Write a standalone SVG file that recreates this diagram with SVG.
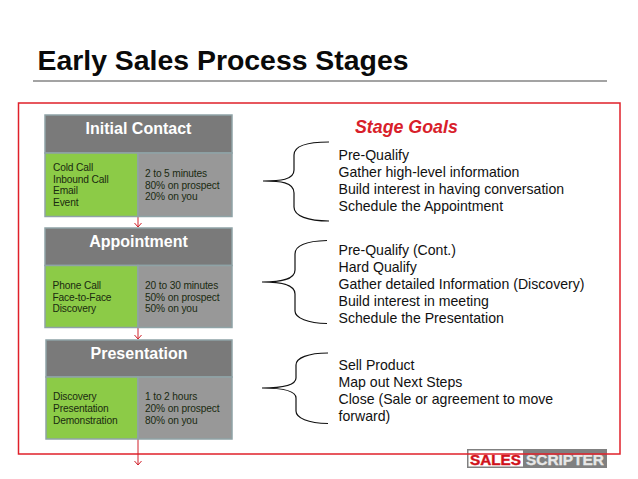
<svg xmlns="http://www.w3.org/2000/svg" width="638" height="479" viewBox="0 0 638 479">
<style>
text{font-family:"Liberation Sans",Arial,sans-serif}
.hd{fill:#7a7a7a;stroke:#8fa3a6;stroke-width:1.5}
.gr{fill:#8ccb47;stroke:#8fa3a6;stroke-width:1.5}
.gy{fill:#989898;stroke:#8fa3a6;stroke-width:1.5}
.ht{fill:#fff;font-size:16px;font-weight:bold;text-anchor:middle}
.sm{fill:#1a2a10;font-size:10.2px;letter-spacing:-.14px}
.gt{fill:#111;font-size:14.1px}
.arr{fill:none;stroke:#d0202a;stroke-width:1}
.br{fill:none;stroke:#111;stroke-width:1.2}
</style>
<rect width="638" height="479" fill="#fff"/>
<g id="title">
<text x="37.500" y="69.500" font-size="28" font-weight="bold" fill="#0a0a0a" textLength="371" lengthAdjust="spacingAndGlyphs">Early Sales Process Stages</text>
<line x1="33" y1="81" x2="607" y2="81" stroke="#858585" stroke-width="1.600"/>
</g>
<g id="logo">
<rect x="467" y="449" width="140" height="19" fill="#808080"/>
<rect x="468.500" y="450.500" width="54.500" height="16" fill="#fff"/>
<text x="470" y="464.500" font-size="14" font-weight="bold" fill="#d0121b" stroke="#d0121b" stroke-width=".4" textLength="51" lengthAdjust="spacingAndGlyphs">SALES</text>
<text x="526" y="464.500" font-size="14" font-weight="bold" fill="#e8e8e8" stroke="#e8e8e8" stroke-width=".3" textLength="78" lengthAdjust="spacingAndGlyphs">SCRIPTER</text>
</g>
<rect id="frame" x="18.500" y="103" width="601.500" height="351" fill="none" stroke="#e0202a" stroke-width="1.500"/>
<g id="connectors">
<path class="arr" d="M138 217V227M134.500 223L138 227L141.500 223"/>
<path class="arr" d="M138 328V339M134.500 335L138 339L141.500 335"/>
<path class="arr" d="M138 439V465M134.500 461L138 465L141.500 461"/>
</g>
<g id="initial-contact">
<rect class="hd" x="45" y="115" width="187" height="38"/>
<text class="ht" x="138.500" y="134">Initial Contact</text>
<rect class="gr" x="45" y="153" width="93" height="63.500"/>
<rect class="gy" x="138" y="153" width="94" height="63.500"/>
<text class="sm" x="53" y="171">Cold Call</text>
<text class="sm" x="53" y="183">Inbound Call</text>
<text class="sm" x="53" y="194">Email</text>
<text class="sm" x="53" y="206">Event</text>
<text class="sm" x="145" y="177">2 to 5 minutes</text>
<text class="sm" x="145" y="189">80% on prospect</text>
<text class="sm" x="145" y="200">20% on you</text>
</g>
<g id="appointment">
<rect class="hd" x="45" y="228" width="187" height="37.500"/>
<text class="ht" x="138.500" y="247">Appointment</text>
<rect class="gr" x="45" y="265.500" width="93" height="62"/>
<rect class="gy" x="138" y="265.500" width="94" height="62"/>
<text class="sm" x="52.500" y="289">Phone Call</text>
<text class="sm" x="52.500" y="300.500">Face-to-Face</text>
<text class="sm" x="52.500" y="312">Discovery</text>
<text class="sm" x="145" y="289">20 to 30 minutes</text>
<text class="sm" x="145" y="300.500">50% on prospect</text>
<text class="sm" x="145" y="312">50% on you</text>
</g>
<g id="presentation">
<rect class="hd" x="46" y="340" width="186" height="37"/>
<text class="ht" x="139" y="359">Presentation</text>
<rect class="gr" x="46" y="377" width="92" height="62"/>
<rect class="gy" x="138" y="377" width="94" height="62"/>
<text class="sm" x="53" y="400">Discovery</text>
<text class="sm" x="53" y="412">Presentation</text>
<text class="sm" x="53" y="424">Demonstration</text>
<text class="sm" x="145" y="400">1 to 2 hours</text>
<text class="sm" x="145" y="412">20% on prospect</text>
<text class="sm" x="145" y="424">80% on you</text>
</g>
<g id="goals-title"><text x="355" y="133" font-size="17.800" font-weight="bold" font-style="italic" fill="#d8202a">Stage Goals</text></g>
<g id="brace-1"><path class="br" d="M263 181C280 181 294 180 294 170V155C294 146 308 142 329 142M263 181C280 181 294 182 294 193V207C294 216 308 221 329 221"/></g>
<g id="brace-2"><path class="br" d="M262 282C280 282 295 280 295 270V254C295 245 308 241 327 240.500M262 282C280 282 295 284 295 294V311C295 318 308 323 327 323.500"/></g>
<g id="brace-3"><path class="br" d="M262 388C280 388 296 386 296 378V365C296 358 308 353 328 353M262 388C280 388 296 390 296 398V411C296 418 308 423 328 423.500"/></g>
<g id="goals-1">
<text class="gt" x="338.500" y="159.500">Pre-Qualify</text>
<text class="gt" x="338.500" y="176.500">Gather high-level information</text>
<text class="gt" x="338.500" y="193.500">Build interest in having conversation</text>
<text class="gt" x="338.500" y="210.500">Schedule the Appointment</text>
</g>
<g id="goals-2">
<text class="gt" x="338.500" y="254.500">Pre-Qualify (Cont.)</text>
<text class="gt" x="338.500" y="271.500">Hard Qualify</text>
<text class="gt" x="338.500" y="288.500">Gather detailed Information (Discovery)</text>
<text class="gt" x="338.500" y="305.500">Build interest in meeting</text>
<text class="gt" x="338.500" y="322.500">Schedule the Presentation</text>
</g>
<g id="goals-3">
<text class="gt" x="338.500" y="369.500">Sell Product</text>
<text class="gt" x="338.500" y="386.500">Map out Next Steps</text>
<text class="gt" x="338.500" y="403.500">Close (Sale or agreement to move</text>
<text class="gt" x="338.500" y="420.500">forward)</text>
</g>
</svg>
